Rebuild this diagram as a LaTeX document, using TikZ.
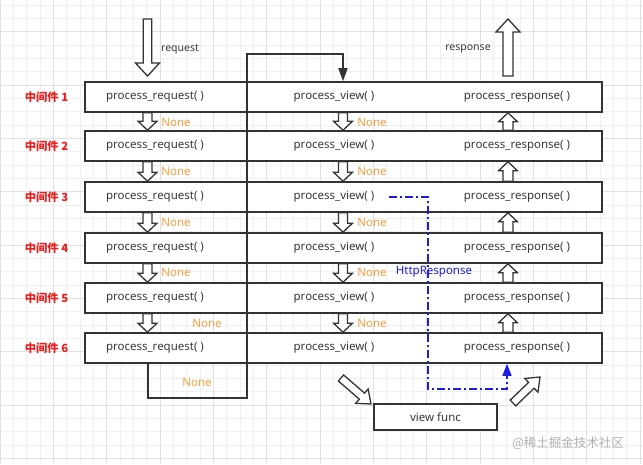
\documentclass[tikz,border=0pt]{standalone}
\usepackage{fontspec}
\setmainfont{Noto Sans}
\newfontfamily\cjk{Noto Sans CJK SC}
\usetikzlibrary{arrows.meta,calc}
\definecolor{ink}{HTML}{333333}
\definecolor{txt}{HTML}{383838}
\definecolor{nonec}{HTML}{F5A040}
\definecolor{redc}{HTML}{EE1C1C}
\definecolor{bluec}{HTML}{1C1CE6}
\definecolor{gminor}{HTML}{F0F0F0}
\definecolor{gmajor}{HTML}{E0E0E0}
\definecolor{wm}{HTML}{B0B0B0}
\newcommand\harrow[5]{\draw[hollow] let \p1=(#1),\p2=(#2),\n1={atan2(\y2-\y1,\x2-\x1)},\n2={veclen(\x2-\x1,\y2-\y1)} in [shift={(\p1)},rotate=\n1] (0pt,-#3) -- ({\n2-#5},-#3) -- ({\n2-#5},-#4) -- (\n2,0pt) -- ({\n2-#5},#4) -- ({\n2-#5},#3) -- (0pt,#3) -- cycle;}
\begin{document}
\begin{tikzpicture}[x=1pt,y=-1pt,
  rowbox/.style={draw=ink,line width=1.6pt,fill=white,minimum width=517pt,minimum height=30pt,inner sep=0pt},
  ptxt/.style={text=txt,font=\fontsize{11.5}{13}\selectfont,inner sep=0pt},
  lab/.style={text=redc,font=\cjk\bfseries\fontsize{11.3}{13}\selectfont,inner sep=0pt},
  nonel/.style={text=nonec,font=\fontsize{11.5}{13}\selectfont,inner sep=0pt},
  hollow/.style={draw=ink,line width=1.3pt,fill=white,line join=miter},
  loopline/.style={draw=ink,line width=1.6pt},
  blueline/.style={draw=bluec,line width=1.5pt,dash pattern=on 8pt off 3pt on 2pt off 3pt},
  minorg/.style={draw=gminor,line width=0.8pt},
  majorg/.style={draw=gmajor,line width=0.9pt}]
\useasboundingbox (0,0) rectangle (643,464);
\fill[white] (0,0) rectangle (643,464);
\foreach \k in {0,...,48} {\draw[minorg] (\k*13.333,0) -- (\k*13.333,464);}
\foreach \k in {0,...,34} {\draw[minorg] (0,5+\k*13.333) -- (643,5+\k*13.333);}
\foreach \k in {0,...,12} {\draw[majorg] (\k*53.333,0) -- (\k*53.333,464);}
\foreach \k in {0,...,8} {\draw[majorg] (0,31.667+\k*53.333) -- (643,31.667+\k*53.333);}
% columns
\coordinate (c1) at (147.5,0);
\coordinate (c2) at (343,0);
\coordinate (c3) at (508,0);
% rows
\foreach \r/\yy in {1/97,2/146,3/197,4/248,5/298,6/348} {
  \node[rowbox] (r\r) at (343.5,\yy) {};
  \node[ptxt] (pq\r) at (155,\yy) {process\_request( )};
  \node[ptxt] (pv\r) at (334,\yy) {process\_view( )};
  \node[ptxt] (pr\r) at (517,\yy) {process\_response( )};
  \node[lab] (m\r) at (46.5,\yy) {中间件 \r};
}
% loop line
\coordinate (lb) at (148,398);
\coordinate (rb) at (247,398);
\coordinate (tl) at (247,54);
\coordinate (tr) at (343,54);
\draw[loopline,-{Triangle[length=13pt,width=9pt]}] (r6.south -| lb) -- (lb) -- (rb) -- (tl) -- (tr) -- (r1.north -| tr);
% small hollow arrows
\foreach \i/\j in {1/2,2/3,3/4,4/5,5/6} {
  \harrow{r\i.south -| c1}{r\j.north -| c1}{4.5pt}{9.5pt}{9pt}
  \harrow{r\i.south -| c2}{r\j.north -| c2}{4.5pt}{9.5pt}{9pt}
  \harrow{r\j.north -| c3}{r\i.south -| c3}{5pt}{9.5pt}{9pt}
}
% request / response
\coordinate (reqtail) at (147.5,19);
\coordinate (reqtip) at (147.5,76);
\coordinate (restail) at (508,76);
\coordinate (restip) at (508,19);
\harrow{reqtail}{reqtip}{4.2pt}{12pt}{13pt}
\harrow{restail}{restip}{5pt}{12pt}{13pt}
\node[ptxt,font=\fontsize{10.5}{12}\selectfont] (req) at (180,49) {request};
\node[ptxt,font=\fontsize{10.5}{12}\selectfont] (resp) at (468,49) {response};
% None labels
\foreach \yy/\k in {122/1,171/2,222/3,272/4} {
  \node[nonel] (na\k) at (176,\yy) {None};
}
\foreach \yy/\k in {122/1,171/2,222/3,272/4,323/5} {
  \node[nonel] (nb\k) at (372,\yy) {None};
}
\node[nonel] (na5) at (207,323) {None};
\node[nonel] (na6) at (197,382) {None};
\node[ptxt,text=bluec] (http) at (434,272) {HttpResponse};
% blue shortcut
\coordinate (b1) at (389,197);
\coordinate (b2) at (428,197);
\coordinate (b3) at (428,389);
\coordinate (b4) at (507,389);
\draw[blueline] (b1) -- (b2) -- (b3) -- (b4) -- ($(b4)+(0,-12)$);
\draw[draw=bluec,line width=1.5pt,-{Triangle[length=12pt,width=9pt]}] ($(b4)+(0,-12.5)$) -- (r6.south -| b4);
% view func
\node[draw=ink,line width=1.6pt,fill=white,minimum width=123pt,minimum height=26pt,inner sep=0pt,text=txt,font=\fontsize{11.5}{13}\selectfont] (vf) at (435.5,417) {view func};
\coordinate (d1t) at (341,378);
\coordinate (d1h) at (371,404);
\coordinate (d2t) at (513,403);
\coordinate (d2h) at (540,377);
\harrow{d1t}{d1h}{4pt}{9.5pt}{12pt}
\harrow{d2t}{d2h}{4pt}{9.5pt}{12pt}
% watermark
\node[text=wm,font=\cjk\fontsize{12.5}{14}\selectfont,inner sep=0pt] (wmk) at (568,443) {@稀土掘金技术社区};
\end{tikzpicture}
\end{document}
